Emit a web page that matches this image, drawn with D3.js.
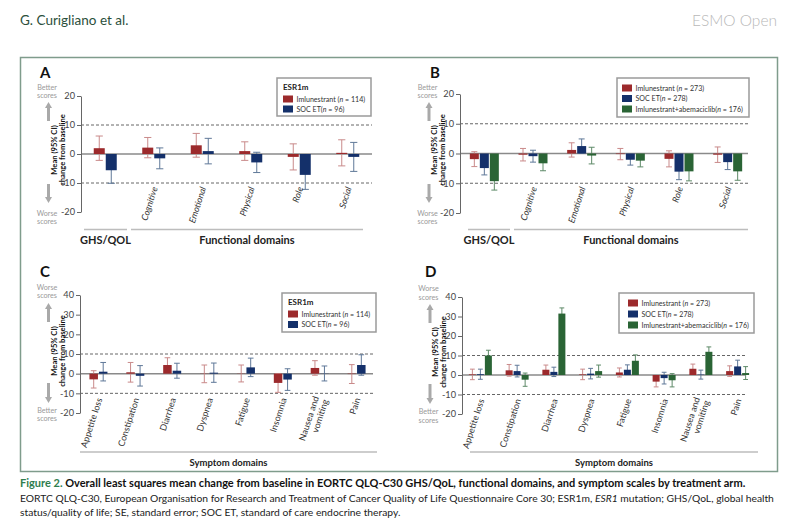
<!DOCTYPE html>
<html>
<head>
<meta charset="utf-8">
<script src="https://cdn.jsdelivr.net/npm/d3@7"></script>
<style>
  body { margin: 0; background: #fff; }
  svg { font-family: Lato, "Open Sans", sans-serif; }
</style>
</head>
<body>
<svg id="fig" width="800" height="527"></svg>
<script>
// categories
var funcCats = ["GHS/QOL", "Cognitive", "Emotional", "Physical", "Role", "Social"];
var sympCats = ["Appetite loss", "Constipation", "Diarrhea", "Dyspnea", "Fatigue", "Insomnia", "Nausea and vomiting", "Pain"];

// panel A (ESR1m) - mean and 95% CI half width
var aIml = [2.0, 2.2, 3.0, 1.0, -1.0, 0.4];
var aImlErr = [4.2, 3.5, 4.1, 3.2, 4.5, 4.5];
var aSoc = [-5.6, -1.5, 1.0, -2.9, -7.2, -1.0];
var aSocErr = [4.5, 3.6, 4.4, 3.5, 5.0, 5.0];

// panel B (all patients)
var bIml = [-1.9, -0.4, 1.2, -0.2, -1.8, -0.4];
var bImlErr = [2.5, 2.1, 2.4, 1.9, 2.7, 2.6];
var bSoc = [-4.9, -0.9, 2.5, -2.1, -6.1, -2.9];
var bSocErr = [2.3, 2.0, 2.4, 1.8, 2.7, 2.5];
var bCombo = [-9.3, -3.3, -0.7, -2.4, -6.0, -6.0];
var bComboErr = [3.0, 2.5, 2.8, 2.1, 3.2, 3.0];

// panel C (ESR1m) symptoms
var cIml = [-2.9, 0.7, 4.4, -0.1, 0.1, -4.7, 2.9, -0.2];
var cImlErr = [4.4, 5.0, 3.7, 4.5, 4.3, 4.8, 3.7, 4.8];
var cSoc = [1.0, -1.1, 1.5, 0.5, 3.2, -3.0, 0.1, 4.4];
var cSocErr = [4.7, 5.2, 3.8, 4.9, 4.7, 5.5, 3.8, 5.2];

// panel D (all patients) symptoms
var dIml = [0.3, 2.4, 2.7, 0.3, 1.3, -3.4, 3.2, 2.0];
var dImlErr = [2.7, 3.0, 2.4, 2.7, 2.3, 2.7, 2.4, 2.7];
var dSoc = [0.4, 2.0, 1.6, 0.7, 2.7, -1.6, 0.2, 4.4];
var dSocErr = [2.6, 3.0, 2.4, 2.7, 2.5, 3.0, 2.3, 3.2];
var dCombo = [10.0, -2.4, 31.5, 2.0, 7.3, -2.7, 11.9, 1.0];
var dComboErr = [2.7, 3.4, 2.9, 3.1, 3.0, 3.4, 2.5, 3.3];

// legend text
var legPrefix = ["Imlunestrant (", "SOC ET(", "Imlunestrant+abemaciclib("];
var nEsr = [114, 96];
var nAll = [273, 278, 176];

var ticksFunc = [20, 10, 0, -10, -20];
var ticksSymp = [40, 30, 20, 10, 0, -10, -20];

var colors = ["#9c2a2c", "#14306a", "#2a6435"];
var errColors = ["#c98a8a", "#5f7898", "#5e8a68"];

var svg = d3.select("#fig");

// header
svg.append("text").attr("x", 20).attr("y", 25)
  .attr("font-size", 13.5).attr("fill", "#2c4f3c").text("G. Curigliano et al.");
svg.append("text").attr("x", 777).attr("y", 26).attr("text-anchor", "end")
  .attr("font-size", 15.5).attr("font-weight", 300).attr("fill", "#b8b8b8").text("ESMO Open");

// frame
svg.append("rect").attr("x", 20.5).attr("y", 57.5).attr("width", 757).attr("height", 414)
  .attr("fill", "none").attr("stroke", "#7f9c8c").attr("stroke-width", 1.5);

function drawArrow(g, x, y1, y2) {
  // y1 = tail, y2 = head
  var dir = y2 < y1 ? -1 : 1;
  g.append("line").attr("x1", x).attr("x2", x).attr("y1", y1).attr("y2", y2 - dir * 5)
    .attr("stroke", "#a9a9a9").attr("stroke-width", 3);
  g.append("path")
    .attr("d", "M" + (x - 3.5) + "," + (y2 - dir * 6) + "L" + (x + 3.5) + "," + (y2 - dir * 6) + "L" + x + "," + y2 + "Z")
    .attr("fill", "#a9a9a9");
}

function drawPanel(p) {
  var g = svg.append("g");

  g.append("text").attr("x", p.lx).attr("y", p.ly).attr("font-size", 15)
    .attr("font-weight", "bold").attr("fill", "#111").text(p.letter);

  var y = d3.scaleLinear().domain(p.domain).range([p.yBot, p.yTop]);
  var x0 = d3.scaleBand().domain(p.cats).range([p.axisX, p.xEnd]);
  var x1 = d3.scaleBand().domain(d3.range(p.series.length)).range([0, p.groupW]);

  // reference lines
  [10, -10].forEach(function(v) {
    g.append("line").attr("x1", p.axisX).attr("x2", p.dashEnd)
      .attr("y1", y(v)).attr("y2", y(v))
      .attr("stroke", "#666").attr("stroke-width", 1).attr("stroke-dasharray", "3,2");
  });
  g.append("line").attr("x1", p.axisX).attr("x2", p.dashEnd)
    .attr("y1", y(0)).attr("y2", y(0))
    .attr("stroke", "#8a8a8a").attr("stroke-width", 1.5);

  // bars with error bars
  p.series.forEach(function(s, i) {
    var bw = x1.bandwidth();
    var sg = g.append("g");
    sg.selectAll(".err").data(p.cats).enter().append("path")
      .attr("d", function(c, k) {
        var cx = x0(c) + x0.bandwidth() / 2 - p.groupW / 2 + x1(i) + bw / 2;
        var lo = y(s.vals[k] - s.errs[k]), hi = y(s.vals[k] + s.errs[k]);
        var cw = bw * 0.3;
        return "M" + cx + "," + lo + "V" + hi +
          "M" + (cx - cw) + "," + hi + "H" + (cx + cw) +
          "M" + (cx - cw) + "," + lo + "H" + (cx + cw);
      })
      .attr("fill", "none").attr("stroke", errColors[i]).attr("stroke-width", 1);
    sg.selectAll(".bar").data(p.cats).enter().append("rect")
      .attr("x", function(c) { return x0(c) + x0.bandwidth() / 2 - p.groupW / 2 + x1(i) + 0.5; })
      .attr("width", bw - 1)
      .attr("y", function(c, k) { return y(Math.max(0, s.vals[k])); })
      .attr("height", function(c, k) { return Math.abs(y(s.vals[k]) - y(0)); })
      .attr("fill", colors[i]);
  });

  // y axis
  var axis = g.append("g").attr("transform", "translate(" + p.axisX + ",0)")
    .call(d3.axisLeft(y).tickValues(p.ticks).tickFormat(function(d) { return String(d); })
      .tickSize(4).tickPadding(2).tickSizeOuter(0));
  axis.select(".domain").attr("stroke", "#666");
  axis.selectAll(".tick line").attr("stroke", "#666");
  axis.selectAll(".tick text").attr("font-size", 9.2).attr("fill", "#444")
    .attr("font-family", "Lato, sans-serif");

  // category labels
  p.cats.forEach(function(c, k) {
    if (p.skipFirst && k === 0) return;
    var cx = x0(c) + x0.bandwidth() / 2 + 4;
    var t = g.append("text")
      .attr("transform", "translate(" + cx + "," + p.labelY + ") rotate(-72)")
      .attr("text-anchor", "end").attr("font-size", 9).attr("fill", "#333")
      .attr("font-style", p.italic ? "italic" : "normal");
    if (c === "Nausea and vomiting") {
      t.append("tspan").attr("x", 0).attr("dy", "-0.55em").text("Nausea and");
      t.append("tspan").attr("x", 0).attr("dy", "1.1em").text("vomiting");
    } else {
      t.text(c);
    }
  });

  // y title
  var ty = g.append("text")
    .attr("transform", "translate(" + p.titleX + "," + p.titleCy + ") rotate(-90)")
    .attr("text-anchor", "middle").attr("font-size", 7.6).attr("font-weight", "bold").attr("fill", "#111");
  ty.append("tspan").attr("x", 0).attr("dy", 0).text("Mean (95% CI)");
  ty.append("tspan").attr("x", 0).attr("dy", 7.5).text("change from baseline");

  // arrows and direction words
  drawArrow(g, p.arrowX, p.upArrow[1], p.upArrow[0]);
  drawArrow(g, p.arrowX, p.downArrow[0], p.downArrow[1]);
  [[p.topWord, p.wordTopY], [p.bottomWord, p.wordBotY]].forEach(function(w) {
    var wx = p.arrowX - 1.5;
    var t = g.append("text").attr("x", wx).attr("y", w[1]).attr("text-anchor", "middle")
      .attr("font-size", 7.2).attr("fill", "#9a9a9a");
    t.append("tspan").attr("x", wx).text(w[0]);
    t.append("tspan").attr("x", wx).attr("dy", 8.8).text("scores");
  });

  // group lines and labels
  p.groups.forEach(function(gr) {
    g.append("line").attr("x1", gr[1]).attr("x2", gr[2]).attr("y1", p.groupLineY).attr("y2", p.groupLineY)
      .attr("stroke", "#bdbdbd").attr("stroke-width", 1.5);
    g.append("text").attr("x", (gr[1] + gr[2]) / 2).attr("y", p.groupLabelY)
      .attr("text-anchor", "middle").attr("font-size", p.groupFont).attr("font-weight", "bold")
      .attr("fill", "#222").text(gr[0]);
  });

  // legend
  var L = p.legend;
  g.append("rect").attr("x", L.x).attr("y", L.y).attr("width", L.w).attr("height", L.h)
    .attr("fill", "#fff").attr("stroke", "#9a9a9a").attr("stroke-width", 1.5);
  var ly0 = L.y + 10;
  if (L.title) {
    g.append("text").attr("x", L.x + 6).attr("y", L.y + 11.5).attr("font-size", 8)
      .attr("font-weight", "bold").attr("fill", "#222").text(L.title);
    ly0 = L.y + 21;
  }
  L.n.forEach(function(n, i) {
    var yy = ly0 + i * L.gap;
    g.append("rect").attr("x", L.x + L.sx).attr("y", yy - 3.5).attr("width", 10).attr("height", 7)
      .attr("fill", colors[i]);
    var t = g.append("text").attr("x", L.x + L.sx + 13.5).attr("y", yy + 2.5)
      .attr("font-size", 7.1).attr("fill", "#333");
    t.append("tspan").text(legPrefix[i]);
    t.append("tspan").attr("font-style", "italic").text("n");
    t.append("tspan").text(" = " + n + ")");
  });
}

drawPanel({
  letter: "A", lx: 40, ly: 78,
  axisX: 81, xEnd: 372, dashEnd: 372, yTop: 96, yBot: 212, domain: [-20, 20], ticks: ticksFunc,
  cats: funcCats, groupW: 24, skipFirst: true, italic: true, labelY: 188,
  series: [{vals: aIml, errs: aImlErr}, {vals: aSoc, errs: aSocErr}],
  titleX: 57, titleCy: 150, arrowX: 48.5, upArrow: [102, 121], downArrow: [184, 203],
  topWord: "Better", bottomWord: "Worse", wordTopY: 89.5, wordBotY: 215.5,
  groups: [["GHS/QOL", 84, 127], ["Functional domains", 131, 363]], groupLineY: 229.5, groupLabelY: 243.5, groupFont: 11,
  legend: {x: 277, y: 78, w: 94, h: 38, title: "ESR1m", n: nEsr, gap: 10, sx: 6}
});

drawPanel({
  letter: "B", lx: 430, ly: 78,
  axisX: 460, xEnd: 752, dashEnd: 748, yTop: 94, yBot: 213, domain: [-20, 20], ticks: ticksFunc,
  cats: funcCats, groupW: 30, skipFirst: true, italic: true, labelY: 188,
  series: [{vals: bIml, errs: bImlErr}, {vals: bSoc, errs: bSocErr}, {vals: bCombo, errs: bComboErr}],
  titleX: 437, titleCy: 150, arrowX: 429, upArrow: [102, 121], downArrow: [184, 203],
  topWord: "Better", bottomWord: "Worse", wordTopY: 89.5, wordBotY: 215.5,
  groups: [["GHS/QOL", 468, 510], ["Functional domains", 514, 748]], groupLineY: 229.5, groupLabelY: 243.5, groupFont: 11,
  legend: {x: 617, y: 78, w: 132, h: 39, title: null, n: nAll, gap: 10.5, sx: 5}
});

drawPanel({
  letter: "C", lx: 40, ly: 277,
  axisX: 80, xEnd: 375, dashEnd: 373, yTop: 295, yBot: 413, domain: [-20, 40], ticks: ticksSymp,
  cats: sympCats, groupW: 19, skipFirst: false, italic: false, labelY: 399,
  series: [{vals: cIml, errs: cImlErr}, {vals: cSoc, errs: cSocErr}],
  titleX: 57, titleCy: 351, arrowX: 48.5, upArrow: [303, 322], downArrow: [383, 403],
  topWord: "Worse", bottomWord: "Better", wordTopY: 289.5, wordBotY: 412.5,
  groups: [["Symptom domains", 80, 377]], groupLineY: 452, groupLabelY: 465.5, groupFont: 9.5,
  legend: {x: 282, y: 293, w: 94, h: 39, title: "ESR1m", n: nEsr, gap: 10.5, sx: 6}
});

drawPanel({
  letter: "D", lx: 425, ly: 277,
  axisX: 462, xEnd: 756, dashEnd: 745, yTop: 297, yBot: 414, domain: [-20, 40], ticks: ticksSymp,
  cats: sympCats, groupW: 24, skipFirst: false, italic: false, labelY: 400,
  series: [{vals: dIml, errs: dImlErr}, {vals: dSoc, errs: dSocErr}, {vals: dCombo, errs: dComboErr}],
  titleX: 438, titleCy: 352, arrowX: 430, upArrow: [304, 323], downArrow: [384, 404],
  topWord: "Worse", bottomWord: "Better", wordTopY: 291, wordBotY: 414,
  groups: [["Symptom domains", 470, 758]], groupLineY: 452, groupLabelY: 465.5, groupFont: 9.5,
  legend: {x: 619, y: 293, w: 135, h: 40, title: null, n: nAll, gap: 11, sx: 9}
});

// caption
var cap1 = svg.append("text").attr("x", 20).attr("y", 486.5).attr("font-size", 11).attr("font-weight", "bold");
cap1.append("tspan").attr("fill", "#2f7d4e").text("Figure 2.");
cap1.append("tspan").attr("fill", "#111").text(" Overall least squares mean change from baseline in EORTC QLQ-C30 GHS/QoL, functional domains, and symptom scales by treatment arm.");

var cap2 = svg.append("text").attr("x", 20).attr("y", 501.5).attr("font-size", 10.3).attr("fill", "#222");
cap2.append("tspan").text("EORTC QLQ-C30, European Organisation for Research and Treatment of Cancer Quality of Life Questionnaire Core 30; ESR1m, ");
cap2.append("tspan").attr("font-style", "italic").text("ESR1");
cap2.append("tspan").text(" mutation; GHS/QoL, global health");

svg.append("text").attr("x", 20).attr("y", 515.5).attr("font-size", 10.3).attr("fill", "#222")
  .text("status/quality of life; SE, standard error; SOC ET, standard of care endocrine therapy.");
</script>
</body>
</html>
